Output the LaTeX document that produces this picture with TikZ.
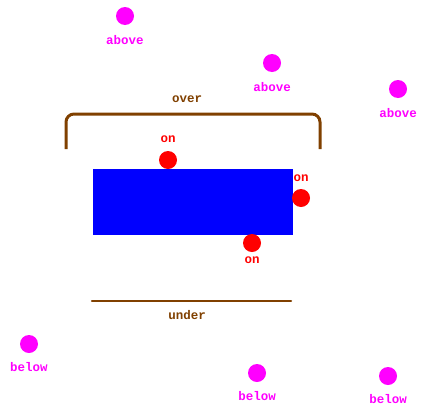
\documentclass[tikz,border=0pt]{standalone}
\usepackage{fontspec}
\setmonofont{Liberation Mono}
\usepackage{xcolor}
\usepackage{tikz}
\definecolor{brun}{RGB}{128,64,0}
\definecolor{rose}{RGB}{255,0,255}

\begin{document}
\begin{tikzpicture}[x=1pt,y=-1pt]
% Styles (MODIFIABLES)
\tikzstyle{point}=[circle,fill,inner sep=0pt,minimum size=18pt]
\tikzstyle{dessus}=[point,rose]
\tikzstyle{dessous}=[point,rose]
\tikzstyle{sur}=[point,red]
\tikzstyle{boite}=[fill=blue,inner sep=0pt,minimum width=200pt,minimum height=66pt]
\tikzstyle{etiquette}=[inner sep=0pt,font=\ttfamily\bfseries\fontsize{12.5}{13}\selectfont]
\tikzstyle{trait}=[brun,line width=3pt]
% Cadre
\useasboundingbox (0,0) rectangle (422,407);
% Boite
\node[boite] (B) at (193,202) {};
% Noeuds (MODIFIABLES)
\node[dessus] (A1) at (125,16) {};
\node[dessus] (A2) at (272,63) {};
\node[dessus] (A3) at (398,89) {};
\node[dessous] (D1) at (29,344) {};
\node[dessous] (D2) at (257,373) {};
\node[dessous] (D3) at (388,376) {};
\node[sur] (S1) at (168,160) {};
\node[sur] (S2) at (301,198) {};
\node[sur] (S3) at (252,243) {};
% Etiquettes
\node[etiquette,rose] (LA1) at (125,40) {above};
\node[etiquette,rose] (LA2) at (272,87) {above};
\node[etiquette,rose] (LA3) at (398,113) {above};
\node[etiquette,rose] (LD1) at (29,367) {below};
\node[etiquette,rose] (LD2) at (257,396) {below};
\node[etiquette,rose] (LD3) at (388,399) {below};
\node[etiquette,red] (LS1) at (168,139) {on};
\node[etiquette,red] (LS2) at (301,178) {on};
\node[etiquette,red] (LS3) at (252,260) {on};
\node[etiquette,brun] (LO) at (187,99) {over};
\node[etiquette,brun] (LU) at (187,315) {under};
% Traits
\coordinate (O1) at (66,149);
\coordinate (O2) at (66,114);
\coordinate (O3) at (320,114);
\coordinate (O4) at (320,149);
\coordinate (U1) at (92,301);
\coordinate (U2) at (291,301);
\draw[trait,rounded corners=8pt] (O1)--(O2)--(O3)--(O4);
\draw[trait,line cap=round,line width=2.5pt] (U1)--(U2);
\end{tikzpicture}
\end{document}
